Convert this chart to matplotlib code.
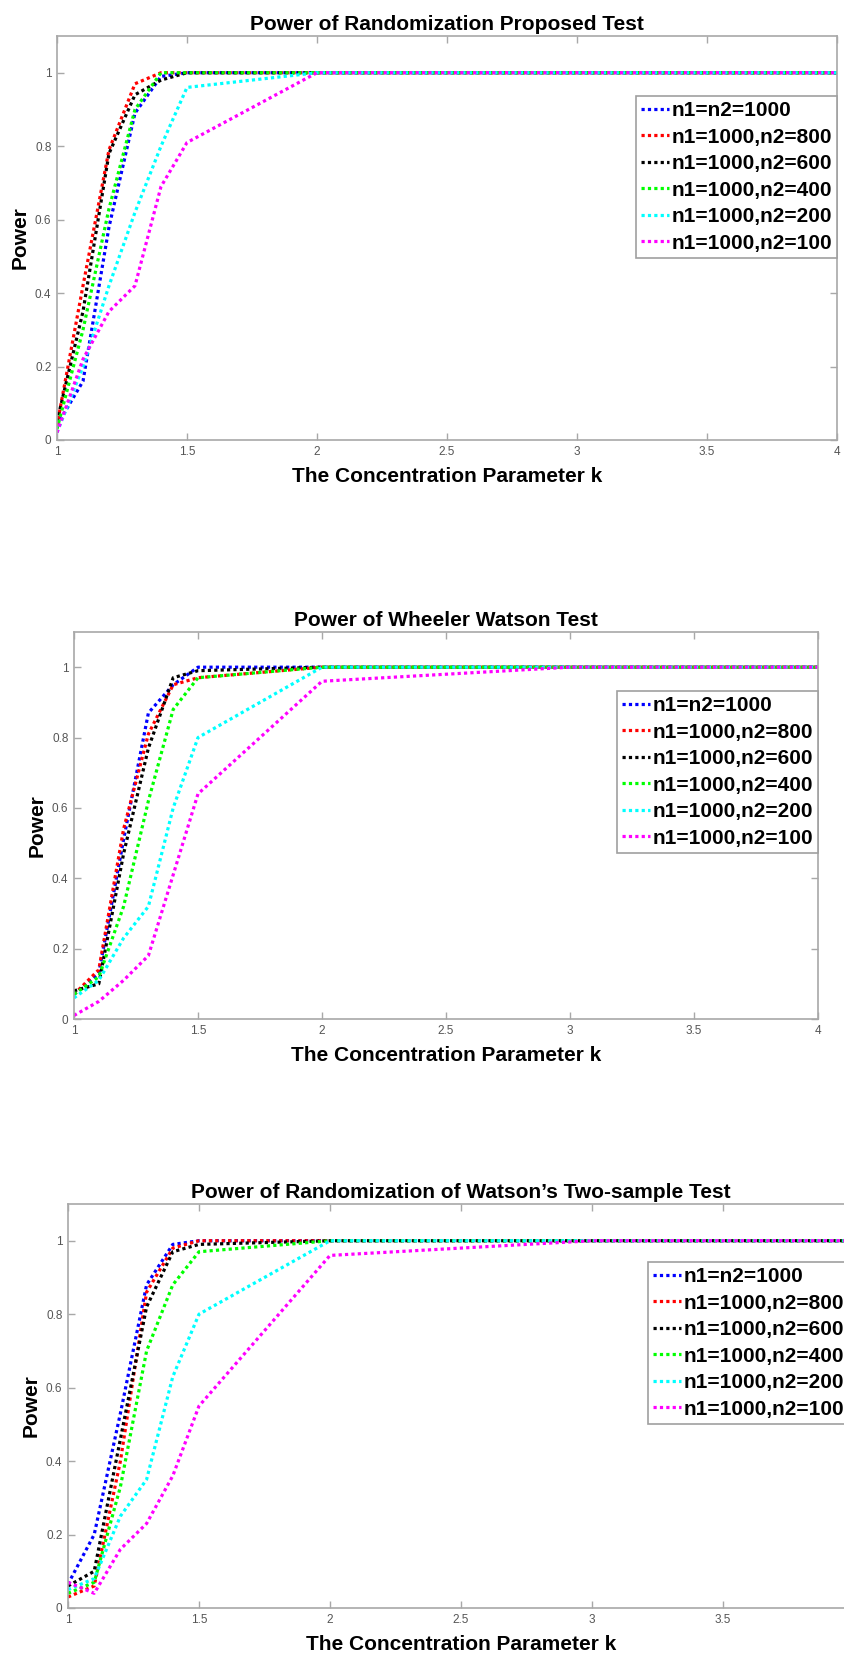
import matplotlib
matplotlib.use("Agg")
import matplotlib.pyplot as plt

plt.rcParams['font.family'] = ['Liberation Sans', 'DejaVu Sans']

# concentration parameter k
k = [1, 1.1, 1.2, 1.3, 1.4, 1.5, 2, 3, 4]

labels = ['n1=n2=1000', 'n1=1000,n2=800', 'n1=1000,n2=600',
          'n1=1000,n2=400', 'n1=1000,n2=200', 'n1=1000,n2=100']
colors = ['#0000ff', '#ff0000', '#000000', '#00ff00', '#00ffff', '#ff00ff']

titles = ['Power of Randomization Proposed Test',
          'Power of Wheeler Watson Test',
          'Power of Randomization of Watson\u2019s Two-sample Test']

# power curves, one list per sample size (order as in labels)
power_proposed = [
    [0.04, 0.16, 0.58, 0.89, 0.99, 1.0, 1.0, 1.0, 1.0],
    [0.04, 0.42, 0.79, 0.97, 1.0, 1.0, 1.0, 1.0, 1.0],
    [0.05, 0.35, 0.78, 0.94, 0.98, 1.0, 1.0, 1.0, 1.0],
    [0.03, 0.30, 0.63, 0.90, 1.0, 1.0, 1.0, 1.0, 1.0],
    [0.02, 0.20, 0.42, 0.62, 0.80, 0.96, 1.0, 1.0, 1.0],
    [0.02, 0.22, 0.35, 0.42, 0.69, 0.81, 1.0, 1.0, 1.0],
]
power_wheeler = [
    [0.07, 0.13, 0.51, 0.87, 0.95, 1.0, 1.0, 1.0, 1.0],
    [0.07, 0.14, 0.54, 0.81, 0.95, 0.97, 1.0, 1.0, 1.0],
    [0.08, 0.10, 0.47, 0.77, 0.97, 0.99, 1.0, 1.0, 1.0],
    [0.07, 0.12, 0.32, 0.62, 0.88, 0.97, 1.0, 1.0, 1.0],
    [0.06, 0.11, 0.23, 0.32, 0.60, 0.80, 1.0, 1.0, 1.0],
    [0.01, 0.05, 0.11, 0.18, 0.41, 0.64, 0.96, 1.0, 1.0],
]
power_watson = [
    [0.065, 0.20, 0.53, 0.88, 0.99, 1.0, 1.0, 1.0, 1.0],
    [0.03, 0.06, 0.40, 0.86, 0.98, 1.0, 1.0, 1.0, 1.0],
    [0.06, 0.10, 0.46, 0.82, 0.97, 0.99, 1.0, 1.0, 1.0],
    [0.04, 0.07, 0.33, 0.70, 0.88, 0.97, 1.0, 1.0, 1.0],
    [0.05, 0.08, 0.25, 0.35, 0.63, 0.80, 1.0, 1.0, 1.0],
    [0.07, 0.04, 0.16, 0.23, 0.36, 0.55, 0.96, 1.0, 1.0],
]
all_power = [power_proposed, power_wheeler, power_watson]

xticks = [1, 1.5, 2, 2.5, 3, 3.5, 4]
xticklabels = ['1', '1.5', '2', '2.5', '3', '3.5', '4']
yticks = [0, 0.2, 0.4, 0.6, 0.8, 1]
yticklabels = ['0', '0.2', '0.4', '0.6', '0.8', '1']

W, H = 844, 1655
fig = plt.figure(figsize=(W / 100, H / 100), dpi=100)

# axes boxes in pixels: left, right, top, bottom
boxes = [(57, 837, 36, 440), (74, 818, 632, 1019), (68, 854, 1204, 1608)]
# legend anchor (pixels) and loc
leg_pos = [((837, 96), 'upper right'), ((818, 691), 'upper right'),
           ((648, 1262), 'upper left')]

for i in range(3):
    l, r, t, b = boxes[i]
    ax = fig.add_axes([l / W, 1 - b / H, (r - l) / W, (b - t) / H])
    for j in range(6):
        ax.plot(k, all_power[i][j], color=colors[j], linestyle=(0, (1, 1)),
                lw=2.3, label=labels[j])
    ax.set_xlim(1, 4)
    ax.set_ylim(0, 1.1)
    ax.set_xticks(xticks)
    ax.set_xticklabels(xticklabels)
    ax.set_yticks(yticks)
    ax.set_yticklabels(yticklabels)
    ax.tick_params(direction='in', length=5, width=1, color='#a8a8a8',
                   labelsize=8.5, labelcolor='#555555', top=True, right=True,
                   pad=4)
    for s in ax.spines.values():
        s.set_color('#a8a8a8')
        s.set_linewidth(1.2)
    ax.set_title(titles[i], fontsize=15, fontweight='bold', pad=4)
    ax.set_xlabel('The Concentration Parameter k', fontsize=15,
                  fontweight='bold', labelpad=7)
    ax.set_ylabel('Power', fontsize=15, fontweight='bold', labelpad=4)

    if r > W:
        # the last tick label falls outside the figure
        ax.get_xticklabels()[-1].set_visible(False)

    (px, py), loc = leg_pos[i]
    ax_x = (px - l) / (r - l)
    ax_y = (b - py) / (b - t)
    leg = ax.legend(loc=loc, bbox_to_anchor=(ax_x, ax_y),
                    prop={'weight': 'bold', 'size': 15}, fancybox=False,
                    framealpha=1, edgecolor='#a0a0a0', handlelength=1.35,
                    handletextpad=0.1, labelspacing=0.36, borderpad=0.25,
                    borderaxespad=0)
    leg.get_frame().set_linewidth(1.2)

fig.savefig('out.png', dpi=100)
